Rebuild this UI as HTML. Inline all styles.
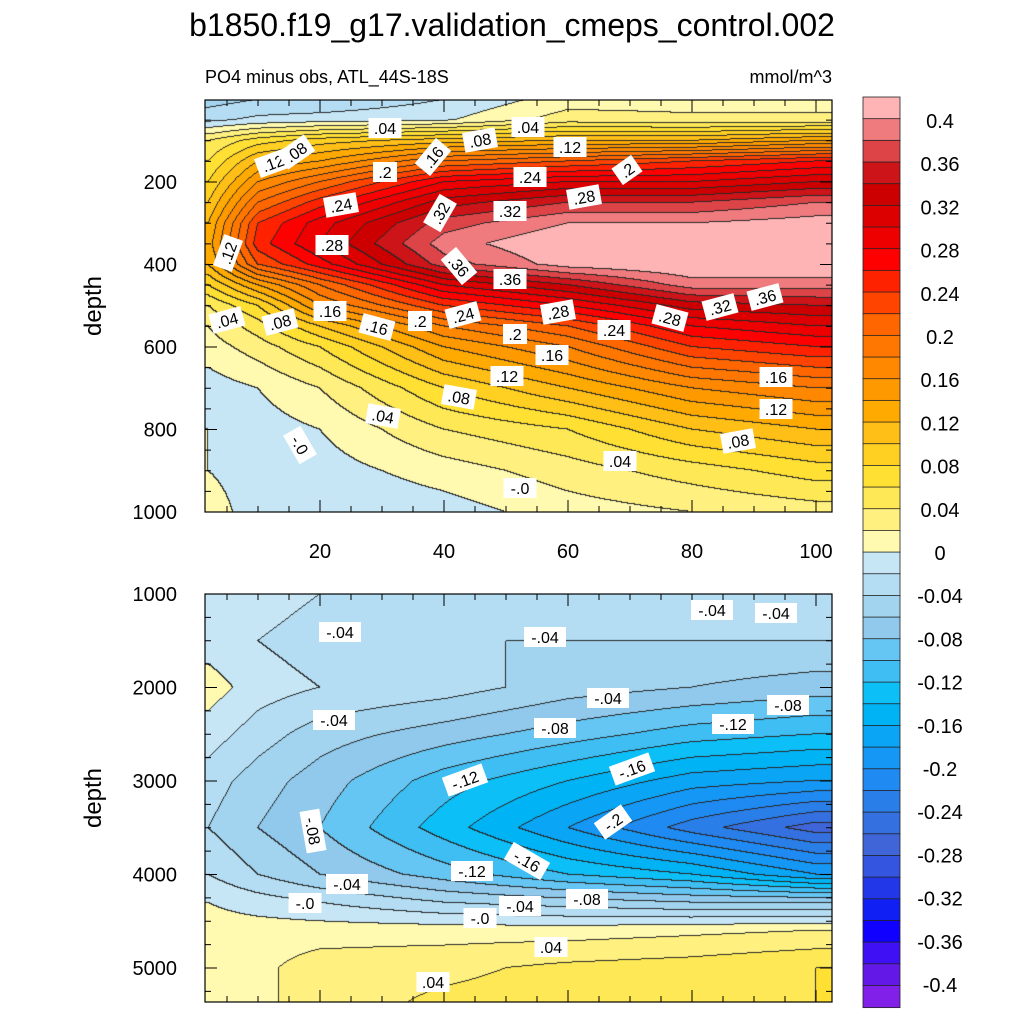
<!DOCTYPE html>
<html><head><meta charset="utf-8">
<style>
body{margin:0;background:#fff;}
#wrap{position:relative;width:1024px;height:1024px;overflow:hidden;font-family:"Liberation Sans",sans-serif;}
canvas{position:absolute;}
svg{position:absolute;left:0;top:0;}
</style></head>
<body>
<div id="wrap">
<canvas id="cTop" width="627" height="412" style="left:205px;top:100px"></canvas>
<canvas id="cBot" width="627" height="408" style="left:205px;top:594px"></canvas>
<svg id="ov" width="1024" height="1024"></svg>
</div>
<script>
// ---- data ----
const xGrid = [2, 10, 20, 40, 60, 80, 100];
const topDepths = [0,50,100,150,200,250,300,350,400,450,500,550,600,700,800,900,1000];
const topVals = [
 [-0.05,-0.025,0.04,0.06,0.08,0.10,0.12,0.13,0.12,0.08,0.04,0.02,0.01,-0.01,0.0,0.0,0.01],
 [-0.04,-0.015,0.07,0.12,0.16,0.20,0.24,0.25,0.22,0.14,0.08,0.05,0.03,0.0,-0.01,-0.01,-0.01],
 [-0.04,-0.01,0.09,0.14,0.20,0.25,0.29,0.30,0.27,0.20,0.16,0.10,0.06,0.02,0.0,-0.01,-0.02],
 [-0.02,-0.003,0.11,0.20,0.28,0.33,0.37,0.39,0.37,0.30,0.24,0.18,0.14,0.08,0.04,0.01,-0.01],
 [0.01,0.03,0.12,0.22,0.30,0.36,0.40,0.42,0.41,0.34,0.28,0.22,0.18,0.12,0.06,0.03,0.01],
 [0.01,0.025,0.12,0.24,0.30,0.36,0.40,0.42,0.42,0.39,0.33,0.28,0.24,0.16,0.10,0.05,0.02],
 [0.01,0.025,0.14,0.26,0.32,0.38,0.41,0.42,0.42,0.39,0.34,0.30,0.26,0.18,0.12,0.07,0.03]
];
const botDepths = [1000,1500,2000,2500,3000,3500,4000,4300,4600,5000,5400];
const botVals = [
 [0.0,-0.01,0.01,-0.01,-0.03,-0.04,-0.02,0.0,0.01,0.01,0.01],
 [-0.01,-0.02,-0.01,-0.03,-0.05,-0.06,-0.04,-0.01,0.01,0.015,0.015],
 [-0.02,-0.03,-0.02,-0.05,-0.07,-0.08,-0.06,-0.02,0.01,0.03,0.03],
 [-0.02,-0.04,-0.03,-0.07,-0.11,-0.13,-0.09,-0.04,0.01,0.035,0.045],
 [-0.02,-0.04,-0.05,-0.09,-0.14,-0.18,-0.12,-0.05,0.01,0.045,0.05],
 [-0.02,-0.04,-0.06,-0.11,-0.17,-0.23,-0.14,-0.06,0.015,0.05,0.055],
 [-0.02,-0.04,-0.07,-0.12,-0.18,-0.27,-0.18,-0.06,0.02,0.06,0.06]
];
const xTicks = [20,40,60,80,100];
const topYTicks = [200,400,600,800,1000];
const botYTicks = [1000,2000,3000,4000,5000];
const cbLabels = ["0.4","0.36","0.32","0.28","0.24","0.2","0.16","0.12","0.08","0.04","0","-0.04","-0.08","-0.12","-0.16","-0.2","-0.24","-0.28","-0.32","-0.36","-0.4"];
const warm = ["#feb4b4","#ef7b7e","#dc4448","#cd1419","#cc0000","#dd0000","#ee0000","#ff0000","#ff2200","#ff4400","#ff6600","#ff7700","#ff8800","#ff9900","#ffaa00","#ffbf16","#ffd022","#ffe033","#ffe855","#fff080","#fffab0"];
const cool = ["#c6e6f6","#b4ddf3","#a2d4ef","#90c9ec","#66c6f3","#3ebef3","#0dbff7","#00b3f5","#0aa5f5","#1597f5","#1f8af2","#2a7ee8","#3470df","#4065d8","#3355e0","#2238e8","#1020f5","#1000ff","#4010f5","#6418e8","#8020e8"];

// ---- axes ----
const X = x => 196 + (x/20)*124;
const Xinv = px => (px-196)/124*20;
const Ytop = d => 99.5 + d/200*82.5;
const YtopInv = py => (py-99.5)/82.5*200;
const Ybot = d => 594 + (d-1000)/1000*93.5;
const YbotInv = py => 1000 + (py-594)/93.5*1000;

function idx(arr,v){ let i=0; while(i<arr.length-2 && v>arr[i+1]) i++; let t=(v-arr[i])/(arr[i+1]-arr[i]); t=Math.max(0,Math.min(1,t)); return [i,t]; }
function sample(vals,depths,x,d){
  const [i,tx]=idx(xGrid,x), [j,ty]=idx(depths,d);
  const a=vals[i][j], b=vals[i+1][j], c=vals[i][j+1], e=vals[i+1][j+1];
  return (a*(1-tx)+b*tx)*(1-ty)+(c*(1-tx)+e*tx)*ty;
}
function level(v){ if(v>=0){const k=Math.floor(v/0.02+1e-9); return k>=20?20:k;} const k=Math.floor(-v/0.02+1e-9); return -1-Math.min(k,20); }
function colorOf(l){ return l>=0 ? warm[20-l] : cool[-1-l]; }
function hex(c){return [parseInt(c.slice(1,3),16),parseInt(c.slice(3,5),16),parseInt(c.slice(5,7),16)];}

function render(id,vals,depths,ox,oy,yinv){
  const cv=document.getElementById(id), ctx=cv.getContext('2d');
  const W=cv.width,H=cv.height, img=ctx.createImageData(W,H), L=new Int16Array(W*H);
  for(let py=0;py<H;py++) for(let px=0;px<W;px++){
    L[py*W+px]=level(sample(vals,depths,Xinv(ox+px+0.5),yinv(oy+py+0.5)));
  }
  for(let py=0;py<H;py++) for(let px=0;px<W;px++){
    const l=L[py*W+px]; let c=hex(colorOf(l));
    const edge=(px<W-1&&L[py*W+px+1]!==l)||(py<H-1&&L[(py+1)*W+px]!==l);
    if(edge) c=[40,40,40];
    const o=(py*W+px)*4; img.data[o]=c[0];img.data[o+1]=c[1];img.data[o+2]=c[2];img.data[o+3]=255;
  }
  ctx.putImageData(img,0,0);
}
render('cTop',topVals,topDepths,205,100,YtopInv);
render('cBot',botVals,botDepths,205,594,YbotInv);

// ---- overlay ----
const svg=document.getElementById('ov'), NS='http://www.w3.org/2000/svg';
function mk(tag,attrs,parent){const e=document.createElementNS(NS,tag);for(const k in attrs)e.setAttribute(k,attrs[k]);(parent||svg).appendChild(e);return e;}
function txt(s,x,y,size,anchor,name){const t=mk('text',{x:x,y:y,'font-size':size,'text-anchor':anchor||'middle','font-family':'Liberation Sans, sans-serif',fill:'#000'});t.textContent=s;


return t;}

txt("b1850.f19_g17.validation_cmeps_control.002",512,36,32,'middle','chart-title');
txt("PO4 minus obs, ATL_44S-18S",205,83,18,'start','subtitle');
txt("mmol/m^3",832,83,18,'end','units-label');

function panel(top,bot,Yf,yTicks,name,yMin,yMax,minorStep,showX){
  const fr=mk('rect',{x:205,y:top,width:627,height:bot-top,fill:'none',stroke:'#000','stroke-width':1.2});
  
  
  for(let x=5;x<=100;x+=5){const px=X(x),len=(x%20===0)?12:6;
    const t1=mk('line',{x1:px,x2:px,y1:bot,y2:bot-len,stroke:'#000'});
    
    
    mk('line',{x1:px,x2:px,y1:top,y2:top+len,stroke:'#000'});}
  for(let d=yMin;d<=yMax;d+=minorStep){const py=Yf(d); if(py<top||py>bot)continue; const maj=yTicks.includes(d),len=maj?12:6;
    const t2=mk('line',{x1:205,x2:205+len,y1:py,y2:py,stroke:'#000'});
    
    
    mk('line',{x1:832,x2:832-len,y1:py,y2:py,stroke:'#000'});}
  yTicks.forEach(d=>txt(String(d),177,Yf(d)+7,20,'end',name+'-y-tick-label'));
  const yt=txt("depth",0,0,24,'middle',name+'-y-axis-title'); yt.setAttribute('transform',`translate(101,${(top+bot)/2}) rotate(-90)`);
  if(showX) xTicks.forEach(x=>txt(String(x),X(x),558,20,'middle','x-tick-label'));
}
panel(100,512,Ytop,topYTicks,'upper',0,1000,50,true);
panel(594,1002,Ybot,botYTicks,'lower',1000,5300,250,false);

// contour labels
const labels=[[385,128,".04",0],[480,140,".08",-10],[528,127,".04",0],[273,163,".12",-20],[296,152,".08",-35],[385,172,".2",0],[433,157,".16",-50],[570,147,".12",0],[627,170,".2",-35],[530,177,".24",0],[584,197,".28",-10],[341,205,".24",-10],[510,211,".32",0],[440,213,".32",-60],[332,245,".28",0],[228,253,".12",-70],[459,266,".36",50],[510,279,".36",0],[227,320,".04",-15],[280,322,".08",-15],[330,311,".16",0],[377,327,".16",15],[420,321,".2",0],[463,315,".24",-15],[515,334,".2",0],[558,312,".28",-10],[614,330,".24",0],[670,318,".28",15],[720,307,".32",-15],[765,297,".36",-15],[552,355,".16",0],[507,376,".12",0],[459,397,".08",10],[383,416,".04",10],[300,445,"-.0",60],[776,377,".16",0],[776,409,".12",0],[738,441,".08",-10],[620,461,".04",0],[520,488,"-.0",0],
[712,610,"-.04",0],[776,613,"-.04",0],[340,632,"-.04",0],[545,637,"-.04",0],[608,698,"-.04",0],[788,705,"-.08",0],[334,720,"-.04",0],[555,728,"-.08",0],[733,724,"-.12",0],[632,769,"-.16",-20],[465,780,"-.12",-20],[313,831,"-.08",80],[613,822,"-.2",-35],[527,861,"-.16",30],[472,871,"-.12",0],[347,884,"-.04",0],[305,903,"-.0",0],[520,906,"-.04",0],[587,899,"-.08",0],[480,918,"-.0",0],[551,947,".04",0],[433,982,".04",0]];
labels.forEach(l=>{const g=mk('g',{transform:`translate(${l[0]},${l[1]}) rotate(${l[3]})`});
  
  
  const w=l[2].length*9+6; mk('rect',{x:-w/2,y:-10,width:w,height:20,fill:'#fff'},g);
  const t=mk('text',{x:0,y:6,'font-size':16,'text-anchor':'middle','font-family':'Liberation Sans, sans-serif'},g); t.textContent=l[2];});

// colorbar
const cbTop=97,cbH=21.67;
const allC=warm.concat(cool);
allC.forEach((c,i)=>{const r=mk('rect',{x:863,y:cbTop+i*cbH,width:37,height:cbH+0.5,fill:c,stroke:'#222','stroke-width':0.8});
  
  });
cbLabels.forEach((s,i)=>txt(s,940,121+i*43.2+7,20,'middle','colorbar-label'));
</script>
</body></html>
